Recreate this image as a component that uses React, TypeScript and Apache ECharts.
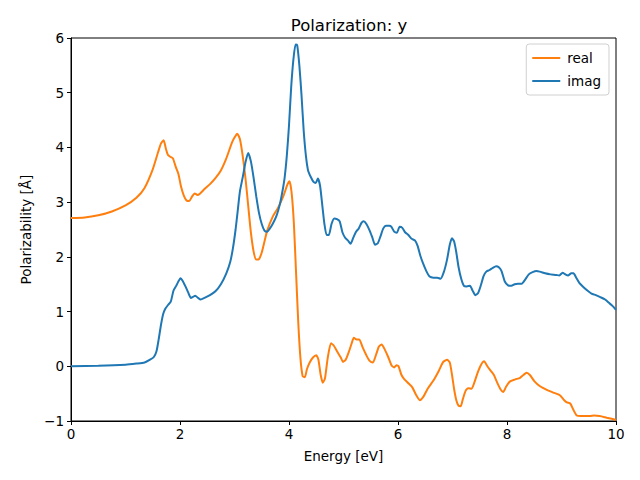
import React, { useEffect, useRef } from "react";
import * as echarts from "echarts";

const realEnergy = [0, 0.25, 0.5, 0.75, 1.0, 1.2, 1.35, 1.5, 1.6, 1.65, 1.7, 1.74, 1.78, 1.82, 1.87, 1.92, 1.97, 2.02, 2.07, 2.12, 2.17, 2.22, 2.27, 2.32, 2.37, 2.45, 2.55, 2.65, 2.75, 2.85, 2.95, 3.0, 3.05, 3.1, 3.15, 3.2, 3.25, 3.3, 3.35, 3.4, 3.45, 3.5, 3.55, 3.6, 3.7, 3.8, 3.9, 3.97, 4.01, 4.05, 4.09, 4.13, 4.17, 4.21, 4.25, 4.29, 4.33, 4.38, 4.44, 4.5, 4.54, 4.58, 4.62, 4.66, 4.71, 4.77, 4.82, 4.89, 4.95, 4.99, 5.04, 5.1, 5.15, 5.19, 5.24, 5.29, 5.35, 5.42, 5.48, 5.54, 5.6, 5.65, 5.7, 5.76, 5.82, 5.88, 5.93, 5.97, 6.01, 6.06, 6.11, 6.18, 6.26, 6.33, 6.4, 6.47, 6.55, 6.65, 6.75, 6.83, 6.9, 6.95, 6.99, 7.03, 7.07, 7.11, 7.15, 7.19, 7.24, 7.29, 7.35, 7.4, 7.46, 7.52, 7.58, 7.64, 7.7, 7.76, 7.82, 7.88, 7.93, 7.98, 8.05, 8.15, 8.24, 8.3, 8.36, 8.42, 8.5, 8.6, 8.73, 8.85, 8.97, 9.05, 9.1, 9.16, 9.22, 9.28, 9.35, 9.45, 9.52, 9.6, 9.7, 9.83, 9.92, 10];
const realValues = [2.71, 2.72, 2.76, 2.83, 2.94, 3.08, 3.26, 3.6, 3.92, 4.07, 4.13, 3.98, 3.86, 3.83, 3.8, 3.65, 3.52, 3.28, 3.12, 3.03, 3.02, 3.1, 3.16, 3.13, 3.16, 3.24, 3.33, 3.44, 3.58, 3.8, 4.08, 4.18, 4.25, 4.15, 3.85, 3.45, 2.95, 2.45, 2.1, 1.95, 1.96, 2.08, 2.28, 2.48, 2.73, 2.9, 3.12, 3.32, 3.38, 3.15, 2.6, 1.7, 0.8, 0.15, -0.18, -0.2, -0.05, 0.07, 0.16, 0.2, 0.12, -0.15, -0.3, -0.22, 0.15, 0.42, 0.38, 0.26, 0.16, 0.08, 0.12, 0.27, 0.42, 0.52, 0.49, 0.49, 0.35, 0.2, 0.1, 0.07, 0.22, 0.36, 0.4, 0.3, 0.17, 0.02, -0.02, 0.02, 0.0, -0.15, -0.23, -0.3, -0.38, -0.52, -0.62, -0.55, -0.4, -0.26, -0.08, 0.08, 0.12, 0.07, -0.15, -0.42, -0.62, -0.72, -0.73, -0.6, -0.45, -0.4, -0.41, -0.3, -0.12, 0.02, 0.09, 0.0, -0.08, -0.16, -0.3, -0.42, -0.47, -0.38, -0.28, -0.24, -0.21, -0.16, -0.12, -0.16, -0.27, -0.36, -0.43, -0.48, -0.53, -0.62, -0.66, -0.68, -0.8, -0.9, -0.91, -0.91, -0.91, -0.9, -0.91, -0.94, -0.96, -0.98];

const imagEnergy = [0, 0.5, 1.0, 1.2, 1.35, 1.45, 1.52, 1.57, 1.61, 1.65, 1.69, 1.73, 1.78, 1.83, 1.88, 1.93, 1.97, 2.01, 2.05, 2.1, 2.15, 2.2, 2.24, 2.28, 2.33, 2.38, 2.45, 2.55, 2.65, 2.75, 2.85, 2.92, 2.97, 3.02, 3.06, 3.1, 3.15, 3.2, 3.25, 3.3, 3.35, 3.4, 3.45, 3.5, 3.55, 3.6, 3.65, 3.7, 3.77, 3.83, 3.88, 3.92, 3.96, 4.0, 4.04, 4.08, 4.12, 4.15, 4.19, 4.23, 4.27, 4.31, 4.35, 4.4, 4.45, 4.49, 4.53, 4.57, 4.61, 4.65, 4.69, 4.73, 4.78, 4.83, 4.88, 4.93, 4.98, 5.03, 5.08, 5.13, 5.18, 5.23, 5.28, 5.33, 5.37, 5.42, 5.48, 5.53, 5.58, 5.63, 5.68, 5.73, 5.78, 5.84, 5.88, 5.93, 5.98, 6.03, 6.08, 6.13, 6.19, 6.25, 6.31, 6.36, 6.41, 6.46, 6.52, 6.58, 6.65, 6.72, 6.78, 6.84, 6.9, 6.95, 6.99, 7.03, 7.07, 7.11, 7.16, 7.21, 7.26, 7.32, 7.37, 7.42, 7.47, 7.52, 7.57, 7.62, 7.68, 7.74, 7.8, 7.85, 7.9, 7.96, 8.02, 8.08, 8.14, 8.2, 8.27, 8.33, 8.4, 8.47, 8.54, 8.6, 8.7, 8.8, 8.9, 8.96, 9.02, 9.07, 9.12, 9.18, 9.22, 9.27, 9.33, 9.4, 9.48, 9.55, 9.63, 9.72, 9.8, 9.87, 9.94, 10];
const imagValues = [0, 0.01, 0.03, 0.05, 0.07, 0.12, 0.17, 0.28, 0.5, 0.75, 0.95, 1.05, 1.12, 1.18, 1.38, 1.47, 1.55, 1.61, 1.56, 1.46, 1.35, 1.25, 1.27, 1.29, 1.25, 1.22, 1.25, 1.3, 1.37, 1.5, 1.7, 1.9, 2.15, 2.5, 2.85, 3.2, 3.45, 3.72, 3.9, 3.75, 3.45, 3.1, 2.8, 2.6, 2.48, 2.46, 2.52, 2.6, 2.75, 2.95, 3.2, 3.45, 3.85, 4.4, 5.1, 5.6, 5.88, 5.87, 5.5, 4.95, 4.3, 3.85, 3.58, 3.46, 3.37, 3.35, 3.43, 3.3, 2.95, 2.6, 2.4, 2.4, 2.6, 2.7, 2.69, 2.65, 2.45, 2.35, 2.3, 2.24, 2.35, 2.46, 2.52, 2.62, 2.65, 2.6, 2.48, 2.35, 2.22, 2.25, 2.38, 2.52, 2.57, 2.57, 2.55, 2.46, 2.44, 2.55, 2.53, 2.45, 2.4, 2.33, 2.3, 2.2, 2.02, 1.88, 1.74, 1.64, 1.62, 1.62, 1.6, 1.72, 1.95, 2.22, 2.34, 2.28, 2.08, 1.82, 1.6, 1.47, 1.46, 1.47, 1.38, 1.3, 1.34, 1.48, 1.65, 1.73, 1.76, 1.8, 1.83, 1.81, 1.74, 1.55, 1.48, 1.47, 1.5, 1.51, 1.51, 1.58, 1.68, 1.72, 1.74, 1.73, 1.7, 1.68, 1.67, 1.66, 1.71, 1.68, 1.66, 1.7, 1.7, 1.62, 1.52, 1.45, 1.38, 1.33, 1.3, 1.26, 1.22, 1.16, 1.1, 1.03];

const seriesNames = ["real", "imag"];
const seriesColors = ["#ff7f0e", "#1f77b4"];
const titleText = "Polarization: y";
const xLabel = "Energy [eV]";
const yLabel = "Polarizability [Å]";

const FONT = "DejaVu Sans";

export default function App() {
  const ref = useRef<HTMLDivElement>(null);
  useEffect(() => {
    if (!ref.current) return;
    const chart = echarts.init(ref.current, null, { renderer: "svg" });
    const pairs = (xs: number[], ys: number[]) => xs.map((x, i) => [x, ys[i]]);
    chart.setOption({
      animation: false,
      backgroundColor: "#fff",
      title: {
        text: titleText,
        left: 344,
        top: 12,
        textAlign: "center",
        textStyle: { fontFamily: FONT, fontSize: 16.5, fontWeight: "normal", color: "#000" },
      },
      legend: {
        data: seriesNames.map((n) => ({ name: n, icon: "rect" })),
        orient: "vertical",
        right: 31,
        top: 44,
        itemWidth: 28,
        itemHeight: 2,
        itemGap: 9,
        padding: [7, 8, 7, 6],
        borderColor: "#d0d0d0",
        borderWidth: 1,
        borderRadius: 3,
        textStyle: { fontFamily: FONT, fontSize: 13.5, color: "#000", padding: [0, 0, 0, 2] },
      },
      grid: {
        left: 71,
        right: 24,
        top: 38,
        bottom: 59,
        show: true,
        borderColor: "#000",
        borderWidth: 1,
        containLabel: false,
      },
      xAxis: {
        type: "value",
        min: 0,
        max: 10,
        interval: 2,
        name: xLabel,
        nameLocation: "middle",
        nameGap: 28,
        nameTextStyle: { fontFamily: FONT, fontSize: 13.5, color: "#000" },
        axisLine: { show: true, onZero: false, lineStyle: { color: "#000", width: 1 } },
        axisTick: { show: true, length: 4, inside: false, lineStyle: { color: "#000" } },
        axisLabel: { fontFamily: FONT, fontSize: 13.5, color: "#000", margin: 6 },
        splitLine: { show: false },
      },
      yAxis: {
        type: "value",
        min: -1,
        max: 6,
        interval: 1,
        name: yLabel,
        nameLocation: "middle",
        nameGap: 38,
        nameTextStyle: { fontFamily: FONT, fontSize: 13.5, color: "#000" },
        axisLine: { show: true, onZero: false, lineStyle: { color: "#000", width: 1 } },
        axisTick: { show: true, length: 4, inside: false, lineStyle: { color: "#000" } },
        axisLabel: {
          fontFamily: FONT,
          fontSize: 13.5,
          color: "#000",
          margin: 7,
          formatter: (v: number) => (v < 0 ? "\u2212" + Math.abs(v) : String(v)),
        },
        splitLine: { show: false },
      },
      series: [
        {
          name: seriesNames[0],
          type: "line",
          data: pairs(realEnergy, realValues),
          showSymbol: false,
          smooth: 0.2,
          color: seriesColors[0],
          lineStyle: { width: 2, color: seriesColors[0] },
        },
        {
          name: seriesNames[1],
          type: "line",
          data: pairs(imagEnergy, imagValues),
          showSymbol: false,
          smooth: 0.2,
          color: seriesColors[1],
          lineStyle: { width: 2, color: seriesColors[1] },
        },
      ],
    });
    return () => chart.dispose();
  }, []);
  return (
    <div
      ref={ref}
      style={{ width: 640, height: 480, position: "fixed", left: 0, top: 0, background: "#fff" }}
    />
  );
}
